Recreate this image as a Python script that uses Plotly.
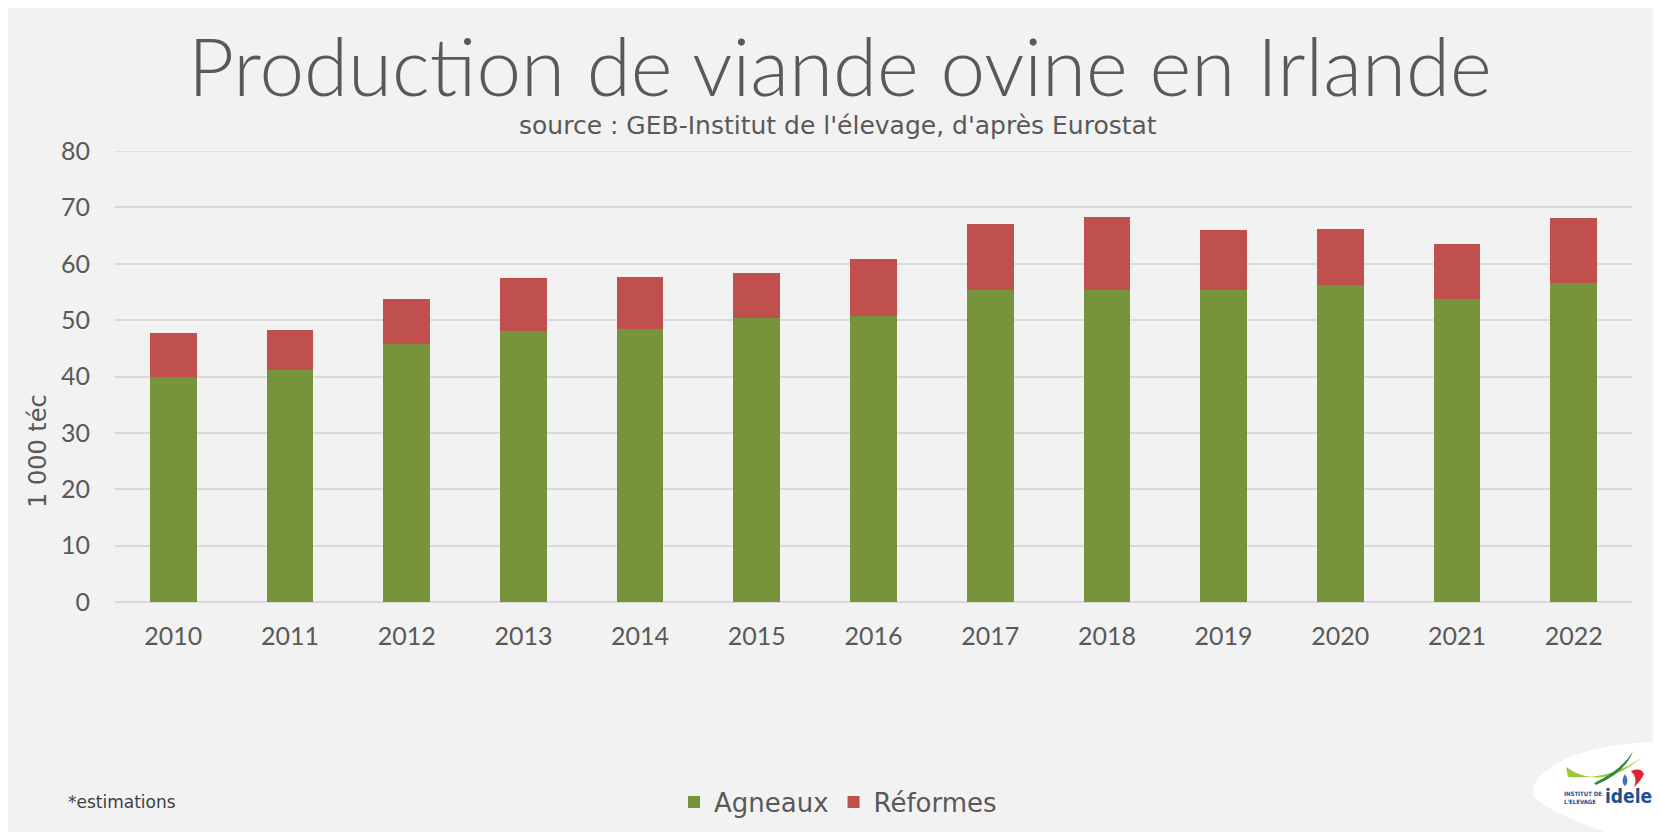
import plotly.graph_objects as go

years = ["2010", "2011", "2012", "2013", "2014", "2015", "2016", "2017", "2018", "2019", "2020", "2021", "2022"]
agneaux = [40.0, 41.1, 45.7, 48.0, 48.5, 50.4, 50.8, 55.4, 55.4, 55.3, 56.3, 53.7, 56.6]
reformes = [7.7, 7.1, 8.0, 9.5, 9.2, 7.9, 10.1, 11.7, 12.9, 10.6, 9.8, 9.8, 11.5]
y_ticks = [0, 10, 20, 30, 40, 50, 60, 70, 80]

# page body has an 8px margin, so the figure starts at screen (8, 8)
OFF = 8
W, H = 1661 - OFF, 832 - OFF
SL, SR, ST, SB = 115, 1632, 151, 602   # plot area in screen pixels
FONT = "Lato"
WIDE = "DejaVu Sans"
GREY = "#595959"
GRID = "#d9d9d9"


def px(x):
    return (x - SL) / (SR - SL)


def py(y):
    return (SB - y) / (SB - ST)


def P(x, y):
    return f"{px(x)},{py(y)}"


fig = go.Figure()
fig.add_trace(go.Bar(x=years, y=agneaux, name="Agneaux", marker=dict(color="#77933c", line=dict(width=0))))
fig.add_trace(go.Bar(x=years, y=reformes, name="Réformes", marker=dict(color="#c0504d", line=dict(width=0))))

shapes = [
    # top gridline (plotly skips gridlines lying on the plot edge)
    dict(type="line", xref="paper", yref="y", x0=0, x1=1, y0=y_ticks[-1], y1=y_ticks[-1],
         line=dict(color=GRID, width=1.5), layer="below"),
]
logo_bg = (f"M {P(1533,786)} Q {P(1555,748)} {P(1648,742)} Q {P(1661,741)} {P(1661,758)} "
           f"L {P(1661,832)} L {P(1605,832)} Q {P(1548,812)} {P(1533,796)} Z")
shapes.append(dict(type="path", xref="paper", yref="paper", path=logo_bg, fillcolor="white",
                   line=dict(width=0)))
swoosh = f"M {P(1566,767)} Q {P(1602,792)} {P(1642,757)} Q {P(1612,780)} {P(1568,777)} Z"
shapes.append(dict(type="path", xref="paper", yref="paper", path=swoosh, fillcolor="#9dc83a",
                   line=dict(width=0)))
swoosh2 = f"M {P(1594,783)} Q {P(1622,770)} {P(1633,751)} Q {P(1626,772)} {P(1596,785)} Z"
shapes.append(dict(type="path", xref="paper", yref="paper", path=swoosh2, fillcolor="#2e8b3e",
                   line=dict(width=0)))
flag = f"M {P(1631,771)} Q {P(1641,767)} {P(1644,774)} Q {P(1641,781)} {P(1634,787)} Q {P(1638,778)} {P(1631,771)} Z"
shapes.append(dict(type="path", xref="paper", yref="paper", path=flag, fillcolor="#e2242f",
                   line=dict(width=0)))
drop = f"M {P(1625,774)} Q {P(1630,782)} {P(1625,786)} Q {P(1620,782)} {P(1625,774)} Z"
shapes.append(dict(type="path", xref="paper", yref="paper", path=drop, fillcolor="#3b78b8",
                   line=dict(width=0)))

annotations = [
    dict(text="Production de viande ovine en Irlande", x=px(840), y=py(65), xref="paper", yref="paper",
         showarrow=False, xanchor="center", yanchor="middle",
         font=dict(family=FONT, size=80, color=GREY, weight=300)),
    dict(text="source : GEB-Institut de l'élevage, d'après Eurostat", x=px(838), y=py(125),
         xref="paper", yref="paper", showarrow=False, xanchor="center", yanchor="middle",
         font=dict(family=WIDE, size=25, color=GREY)),
    dict(text="1 000 téc", x=px(38), y=py(451), xref="paper", yref="paper", showarrow=False,
         textangle=-90, xanchor="center", yanchor="middle",
         font=dict(family=WIDE, size=24, color=GREY)),
    dict(text="*estimations", x=px(66), y=py(802), xref="paper", yref="paper", showarrow=False,
         xanchor="left", yanchor="middle", font=dict(family=WIDE, size=17, color="#404040")),
    dict(text="INSTITUT DE<br>L'ELEVAGE", x=px(1603), y=py(797), xref="paper", yref="paper",
         showarrow=False, xanchor="right", yanchor="middle", align="left", borderpad=0,
         font=dict(family="DejaVu Sans Condensed", size=6, color="#1d4f91", weight="bold")),
    dict(text="idele", x=px(1604), y=py(796), xref="paper", yref="paper", showarrow=False,
         xanchor="left", yanchor="middle", borderpad=0,
         font=dict(family="DejaVu Sans Condensed", size=19, color="#1d4f91", weight="bold")),
]

fig.update_layout(
    width=W, height=H,
    margin=dict(l=SL - OFF, r=W - (SR - OFF), t=ST - OFF, b=H - (SB - OFF), pad=0, autoexpand=False),
    paper_bgcolor="#f2f2f2", plot_bgcolor="#f2f2f2",
    barmode="stack", bargap=0.6,
    font=dict(family=FONT, color=GREY),
    showlegend=True,
    legend=dict(orientation="h", x=px(838), y=py(802), xanchor="center", yanchor="middle",
                font=dict(family=WIDE, size=26, color=GREY), bgcolor="rgba(0,0,0,0)",
                itemwidth=30, traceorder="normal"),
    xaxis=dict(type="category", showgrid=False, showline=False, ticks="",
               tickfont=dict(family=FONT, size=25, color=GREY), ticklabelstandoff=17),
    yaxis=dict(range=[0, 80], tickvals=y_ticks, showgrid=True, gridcolor=GRID, gridwidth=1.5,
               zeroline=True, zerolinecolor=GRID, zerolinewidth=1.5, showline=False, ticks="",
               tickfont=dict(family=FONT, size=25, color=GREY), ticklabelstandoff=24),
    shapes=shapes,
    annotations=annotations,
)

fig.write_html("out.html")
